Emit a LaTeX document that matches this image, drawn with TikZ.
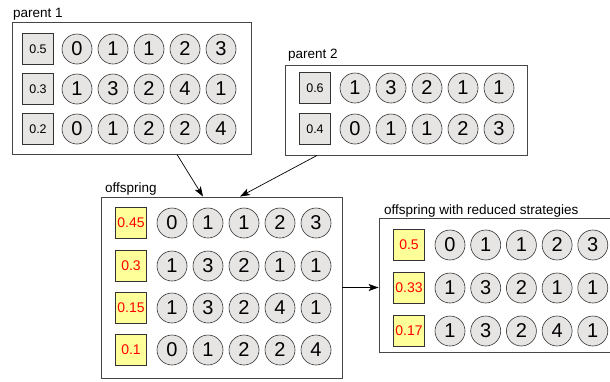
\documentclass[tikz,border=0pt]{standalone}
\usepackage{fontspec}
\setmainfont{Liberation Sans}
\usetikzlibrary{arrows.meta}
\definecolor{genegray}{RGB}{231,228,228}
\definecolor{boxgray}{RGB}{70,70,70}
\definecolor{weightyellow}{RGB}{255,255,153}

\begin{document}
\begin{tikzpicture}[x=1pt,y=-1pt]

	\tikzstyle population box=[draw=boxgray, line width=0.9pt, inner sep=0pt];
	\tikzstyle gene=[circle, draw=black!80, fill=genegray, line width=0.6pt, minimum size=30pt, inner sep=0pt, font=\fontsize{20}{20}\selectfont];
	\tikzstyle old weight=[draw=black!80, fill=genegray, line width=0.6pt, minimum size=31pt, inner sep=0pt, font=\fontsize{12.5}{12.5}\selectfont];
	\tikzstyle new weight=[old weight, fill=weightyellow, text=red, font=\fontsize{14}{14}\selectfont];
	\tikzstyle title=[anchor=base west, inner sep=0pt, font=\fontsize{13.5}{13.5}\selectfont];
	\tikzstyle flow=[line width=0.7pt, -{Stealth[length=10pt, width=7pt, inset=2.5pt]}];

	\useasboundingbox (0,0) rectangle (610,381);

	% the populations
	\node[population box, minimum width=239pt, minimum height=132pt] (p1) at (131.5,88) {};
	\node[population box, minimum width=242pt, minimum height=90pt] (p2) at (406,110) {};
	\node[population box, minimum width=241pt, minimum height=181pt] (off) at (221.5,287.5) {};
	\node[population box, minimum width=245pt, minimum height=134pt] (red) at (501.5,285) {};

	\node[title] (p1 label) at (13,17) {parent 1};
	\node[title] (p2 label) at (288,58) {parent 2};
	\node[title] (off label) at (105,192) {offspring};
	\node[title] (red label) at (384,214) {offspring with reduced strategies};

	% parent 1
	\foreach \y/\w/\genes [count=\r] in {49/0.5/{0,1,1,2,3},89/0.3/{1,3,2,4,1},129/0.2/{0,1,2,2,4}} {
		\node[old weight] (p1w\r) at (38,\y) {\w};
		\foreach \g [count=\i] in \genes
			\node[gene] (p1g\r\i) at (41+36*\i,\y) {\g};
	}

	% parent 2
	\foreach \y/\w/\genes [count=\r] in {88/0.6/{1,3,2,1,1},129/0.4/{0,1,1,2,3}} {
		\node[old weight] (p2w\r) at (315,\y) {\w};
		\foreach \g [count=\i] in \genes
			\node[gene] (p2g\r\i) at (319+36*\i,\y) {\g};
	}

	% offspring
	\foreach \y/\w/\genes [count=\r] in {223/0.45/{0,1,1,2,3},266/0.3/{1,3,2,1,1},308/0.15/{1,3,2,4,1},350/0.1/{0,1,2,2,4}} {
		\node[new weight] (offw\r) at (131,\y) {\w};
		\foreach \g [count=\i] in \genes
			\node[gene] (offg\r\i) at (136+36*\i,\y) {\g};
	}

	% offspring with reduced strategies
	\foreach \y/\w/\genes [count=\r] in {245/0.5/{0,1,1,2,3},288/0.33/{1,3,2,1,1},331/0.17/{1,3,2,4,1}} {
		\node[new weight] (redw\r) at (409,\y) {\w};
		\foreach \g [count=\i] in \genes
			\node[gene] (redg\r\i) at (414.3+35.7*\i,\y) {\g};
	}

	\draw[flow] ([xshift=45.5pt]p1.south) -- ([xshift=-18.5pt]off.north);
	\draw[flow] ([xshift=-89pt]p2.south) -- ([xshift=18.5pt]off.north);
	\draw[flow] (off.east) -- (off.east -| red.west);

\end{tikzpicture}
\end{document}
